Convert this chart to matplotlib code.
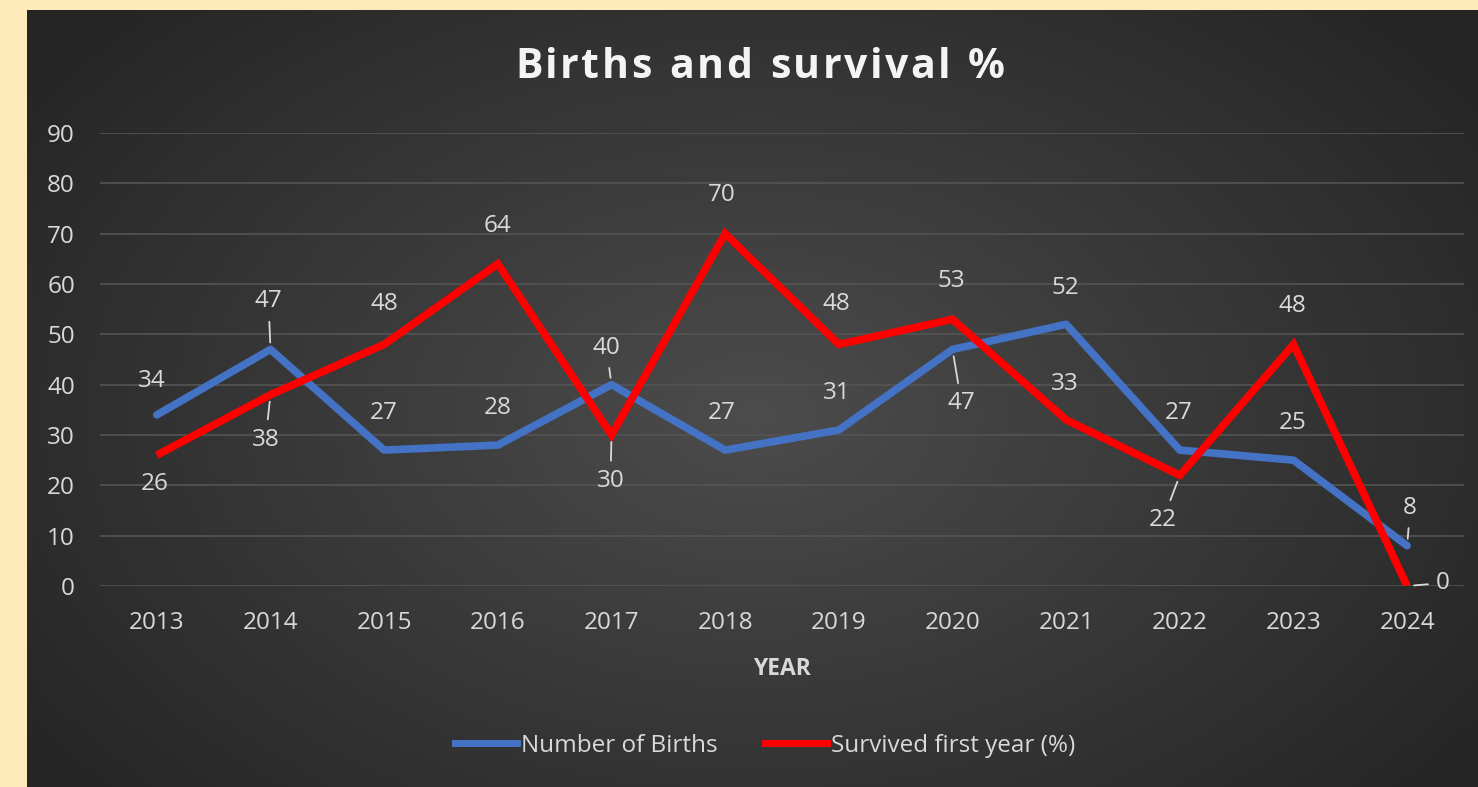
import numpy as np
import matplotlib
matplotlib.use("Agg")
import matplotlib.pyplot as plt
from matplotlib.lines import Line2D

years = ["2013", "2014", "2015", "2016", "2017", "2018", "2019", "2020", "2021", "2022", "2023", "2024"]
births = [34, 47, 27, 28, 40, 27, 31, 47, 52, 27, 25, 8]
survived = [26, 38, 48, 64, 30, 70, 48, 53, 33, 22, 48, 0]
yticks = [0, 10, 20, 30, 40, 50, 60, 70, 80, 90]
title = 'Births and survival %'

# label offsets (pixels) and leader flags
b_off = [(-5, 34), (-2, 48), (0, 37), (0, 37), (-5, 37), (-3, 37), (-2, 37), (9, -54), (-1, 36), (-1, 37), (-1, 37), (3, 38)]
b_lead = [0, 1, 0, 0, 1, 0, 0, 1, 0, 0, 0, 1]
s_off = [(-2, -29), (-5, -45), (0, 40), (0, 38), (-1, -46), (-3, 39), (-2, 40), (-1, 38), (-1, 36), (-17, -45), (-1, 38), (36, 3)]
s_lead = [0, 1, 0, 0, 1, 0, 0, 0, 0, 1, 0, 1]

plt.rcParams['font.family'] = ['Open Sans', 'DejaVu Sans']
W, H = 1478, 787
fig = plt.figure(figsize=(W / 100, H / 100), dpi=100)
fig.patch.set_facecolor('#FFEBB9')

# dark radial-gradient panel
bx0, by1 = 27, 10
bg = fig.add_axes([bx0 / W, 0, 1 - bx0 / W, 1 - by1 / H])
ny, nx = 400, 750
yy, xx = np.mgrid[0:ny, 0:nx]
cx, cy = nx * 0.5, ny * 0.52
r = np.sqrt(((xx - cx) / (nx * 0.62)) ** 2 + ((yy - cy) / (ny * 0.75)) ** 2)
r = np.clip(r, 0, 1)
c_in = np.array([0x4c, 0x4c, 0x4c]) / 255
c_out = np.array([0x25, 0x25, 0x25]) / 255
img = c_in[None, None, :] * (1 - r[..., None]) + c_out[None, None, :] * r[..., None]
bg.imshow(img, aspect='auto', extent=[0, 1, 0, 1], interpolation='bilinear')
bg.axis('off')

# main axes
L, R = 100, 1464
T, B = 133, 586
ax = fig.add_axes([L / W, 1 - B / H, (R - L) / W, (B - T) / H])
ax.set_facecolor('none')
x = np.arange(len(years))
ax.set_xlim(-0.5, len(years) - 0.5)
ax.set_ylim(0, 90)
ax.set_yticks(yticks)
ax.set_xticks(x)
ax.set_xticklabels(years)
ax.grid(axis='y', color='#545454', lw=1.2)
ax.set_axisbelow(True)
for s in ax.spines.values():
    s.set_visible(False)
FS = 17.5
ax.tick_params(axis='both', length=0, colors='#D9D9D9', labelsize=FS)
ax.tick_params(axis='y', pad=18)
ax.tick_params(axis='x', pad=18)
ax.set_xlabel('YEAR', color='#D9D9D9', fontsize=16.5, fontweight='bold', labelpad=16)

blue = '#4472C4'
red = '#FF0000'
ax.plot(x, births, color=blue, lw=5.5, solid_joinstyle='round', solid_capstyle='round', zorder=3)
ax.plot(x, survived, color=red, lw=5.5, solid_joinstyle='miter', solid_capstyle='butt', zorder=4)

def labels(vals, offs, leads):
    for i, v in enumerate(vals):
        dx, dy = offs[i]
        kw = {}
        if leads[i]:
            kw['arrowprops'] = dict(arrowstyle='-', color='#D9D9D9', lw=1.3, shrinkA=4, shrinkB=5)
        ax.annotate(str(v), (x[i], v), xytext=(dx, dy), textcoords='offset pixels',
                    ha='center', va='center', color='#D9D9D9', fontsize=FS, zorder=6, **kw)

labels(births, b_off, b_lead)
labels(survived, s_off, s_lead)

# title with letter spacing
renderer = fig.canvas.get_renderer()
tfs = 29.5
track = 2.6  # px between characters
widths = []
for ch in title:
    t = fig.text(0, 0, ch if ch != ' ' else 'n', fontsize=tfs, fontweight='bold')
    w = t.get_window_extent(renderer).width
    if ch == ' ':
        w *= 0.45
    widths.append(w)
    t.remove()
total = sum(widths) + track * (len(title) - 1)
xpos = 760 - total / 2
for ch, w in zip(title, widths):
    if ch != ' ':
        fig.text(xpos / W, 1 - 67 / H, ch, ha='left', va='center', color='#F4F4F4',
                 fontsize=tfs, fontweight='bold')
    xpos += w + track

handles = [Line2D([], [], color=blue, lw=5), Line2D([], [], color=red, lw=5)]
leg = fig.legend(handles, ['Number of Births', 'Survived first year (%)'], loc='center',
                 bbox_to_anchor=(765 / W, 1 - 746 / H), ncol=2, frameon=False,
                 fontsize=FS, handlelength=2.55, handletextpad=0.15, columnspacing=1.95)
for t in leg.get_texts():
    t.set_color('#D9D9D9')

fig.savefig('out.png', dpi=100, facecolor=fig.get_facecolor())
